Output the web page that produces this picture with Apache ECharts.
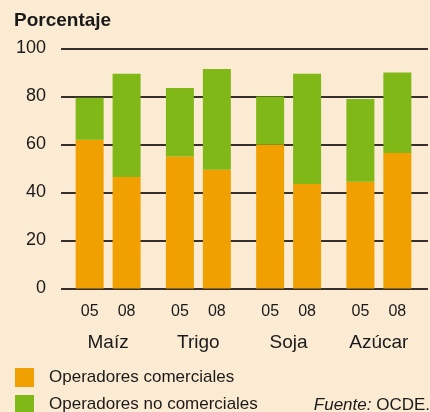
<!DOCTYPE html>
<html>
<head>
<meta charset="utf-8">
<script src="https://cdn.jsdelivr.net/npm/echarts@6/dist/echarts.min.js"></script>
<style>
  html, body { margin: 0; padding: 0; background: #fcebd3; }
  #chart { width: 430px; height: 412px; }
</style>
</head>
<body>
<div id="chart"></div>
<script>
const productos = ['Maíz', 'Trigo', 'Soja', 'Azúcar']
const periodos = ['05', '08']
const yTicks = [0, 20, 40, 60, 80, 100]
// share of open interest
const comerciales05 = [62, 55, 60, 44.5]
const noComerciales05 = [17.5, 28.5, 20, 34.5]
const comerciales08 = [46.5, 49.5, 43.5, 56.5]
const noComerciales08 = [43, 42, 46, 33.5]

const NARANJA = '#f0a000'
const VERDE = '#7fb817'
const FONT = 'Liberation Sans'

const dom = document.getElementById('chart')
const myChart = echarts.init(dom, null, { renderer: 'canvas' })

const periodLabel = p => ({
  show: true,
  position: 'bottom',
  distance: 15,
  formatter: () => p,
  color: '#1a1a1a',
  fontSize: 16,
  fontFamily: FONT
})

const barBase = { type: 'bar', xAxisIndex: 1, yAxisIndex: 1, barWidth: 28, barGap: '32%' }

const option = {
  backgroundColor: '#fcebd3',
  animation: false,
  title: {
    text: 'Porcentaje',
    left: 9,
    top: 6,
    textStyle: { fontFamily: FONT, fontWeight: 'bold', fontSize: 19, color: '#1a1a1a' }
  },
  legend: {
    orient: 'vertical',
    left: 15,
    top: 368,
    height: 80,
    padding: 0,
    itemWidth: 19,
    itemHeight: 19,
    itemGap: 8,
    icon: 'rect',
    data: ['Operadores comerciales', 'Operadores no comerciales'],
    textStyle: { fontFamily: FONT, fontSize: 17, color: '#1a1a1a', padding: [0, 0, 0, 10] }
  },
  grid: [
    { left: 61, right: 2, top: 48.5, bottom: 123.5 },
    { left: 63, right: 6, top: 48.5, bottom: 123.5 }
  ],
  xAxis: [
    { gridIndex: 0, type: 'value', show: false },
    {
      gridIndex: 1,
      type: 'category',
      data: productos,
      axisLine: { show: false },
      axisTick: { show: false },
      axisLabel: { margin: 45, fontSize: 19, fontFamily: FONT, color: '#1a1a1a' }
    }
  ],
  yAxis: [
    {
      gridIndex: 0,
      type: 'value',
      min: yTicks[0],
      max: yTicks[yTicks.length - 1],
      interval: yTicks[1] - yTicks[0],
      axisLine: { show: false },
      axisTick: { show: false },
      axisLabel: { margin: 15, fontSize: 18, fontFamily: FONT, color: '#1a1a1a' },
      splitLine: { lineStyle: { color: '#35302b', width: 2 } }
    },
    { gridIndex: 1, type: 'value', min: 0, max: 100, show: false }
  ],
  series: [
    { ...barBase, name: 'Operadores comerciales', stack: '05', data: comerciales05, itemStyle: { color: NARANJA }, label: periodLabel(periodos[0]) },
    { ...barBase, name: 'Operadores no comerciales', stack: '05', data: noComerciales05, itemStyle: { color: VERDE } },
    { ...barBase, name: 'Operadores comerciales', stack: '08', data: comerciales08, itemStyle: { color: NARANJA }, label: periodLabel(periodos[1]) },
    { ...barBase, name: 'Operadores no comerciales', stack: '08', data: noComerciales08, itemStyle: { color: VERDE } }
  ],
  graphic: [{
    type: 'text',
    right: 0,
    top: 397,
    style: {
      text: '{i|Fuente:} OCDE.',
      fontFamily: FONT,
      fontSize: 17,
      fill: '#1a1a1a',
      rich: { i: { fontStyle: 'italic', fontFamily: FONT, fontSize: 17, fill: '#1a1a1a' } }
    }
  }]
}
myChart.setOption(option, true)
</script>
</body>
</html>
